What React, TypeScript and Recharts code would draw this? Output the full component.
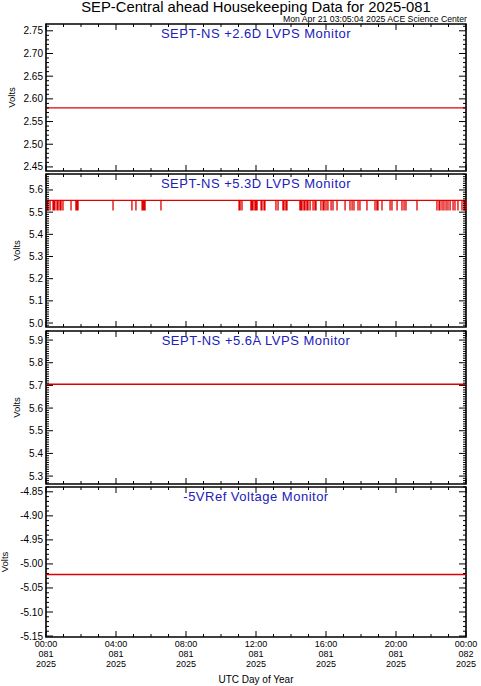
import React from "react";
import { LineChart, Line, XAxis, YAxis, ReferenceArea } from "recharts";

const W = 481;
const H = 686;
const PLOT_L = 46;
const PLOT_R = 466;
const FONT = "'Liberation Sans', Arial, sans-serif";
const RED = "#e00000";
const BLUE = "#2020b8";

// x axis (hours of day 081)
const majorHours = [0, 4, 8, 12, 16, 20, 24];
const hourLabels = ["00:00", "04:00", "08:00", "12:00", "16:00", "20:00", "00:00"];
const dayLabels = ["081", "081", "081", "081", "081", "081", "082"];
const yearLabels = ["2025", "2025", "2025", "2025", "2025", "2025", "2025"];

// panel 1: +2.6D LVPS
const p1Times = [0, 24];
const p1Volts = [2.58, 2.58];
const p1Ticks = [2.45, 2.5, 2.55, 2.6, 2.65, 2.7, 2.75];

// panel 2: +5.3D LVPS (level with single-sample dropouts)
const p2Level = 5.553;
const p2Dropout = 5.507;
const p2DropTimes = [
  0.06, 0.11, 0.23, 0.4, 0.46, 0.51, 0.63, 0.69, 0.8, 0.86, 0.97, 1.43, 1.71, 1.77, 1.83,
  3.83, 4.91, 5.14, 5.49, 5.54, 5.6, 5.66, 6.57,
  11.03, 11.09, 11.2, 11.71, 11.77, 11.83, 11.94, 12.0, 12.06, 12.29, 12.34, 12.46, 12.51,
  13.14, 13.26, 13.54, 13.6, 13.71, 13.77, 14.51, 14.57, 14.63, 14.74, 14.8, 14.91, 14.97,
  15.09, 15.26, 15.37, 15.43, 15.71, 15.83, 15.89, 16.0, 16.11, 16.29, 16.4, 16.63, 17.09,
  17.37, 17.49, 17.6, 17.83, 17.94, 18.34, 18.8, 18.91, 18.97, 19.2, 19.66, 19.77, 20.06,
  20.34, 20.46, 20.57, 21.2, 22.34, 22.46, 22.51, 22.63, 22.74, 22.86, 22.97, 23.09, 23.26,
  23.37, 23.54, 23.77, 23.89, 23.94, 24.0,
];
const p2Ticks = [5.0, 5.1, 5.2, 5.3, 5.4, 5.5, 5.6];

// panel 3: +5.6A LVPS
const p3Times = [0, 24];
const p3Volts = [5.705, 5.705];
const p3Ticks = [5.3, 5.4, 5.5, 5.6, 5.7, 5.8, 5.9];

// panel 4: -5VRef
const p4Times = [0, 24];
const p4Volts = [-5.022, -5.022];
const p4Ticks = [-5.15, -5.1, -5.05, -5.0, -4.95, -4.9, -4.85];

function steps(lo: number, hi: number, step: number) {
  const out: number[] = [];
  const n = Math.floor((hi - lo) / step + 1e-6);
  for (let i = 0; i <= n; i++) out.push(Math.round((lo + i * step) * 1000) / 1000);
  return out;
}

const hourTicks = steps(0, 24, 1);

type Row = { t: number; v: number };

const zip = (ts: number[], vs: number[]): Row[] => ts.map((t, i) => ({ t, v: vs[i] }));

const p2Data: Row[] = [{ t: 0, v: p2Level }];
for (const t of p2DropTimes) {
  p2Data.push({ t, v: p2Level }, { t, v: p2Dropout }, { t, v: p2Level });
}
p2Data.push({ t: 24, v: p2Level });

type PanelProps = {
  top: number;
  plotH: number;
  domain: [number, number];
  majors: number[];
  decimals: number;
  data: Row[];
  last?: boolean;
};

const PAD = 4;

function Panel({ top, plotH, domain, majors, decimals, data, last }: PanelProps) {
  const xAxisH = last ? 40 : 2;
  const bottomPad = last ? 16 : PAD;
  const chartH = PAD + plotH + xAxisH + bottomPad;
  const plotTop = PAD;
  const plotBottom = PAD + plotH;
  const yTicks = steps(Math.ceil(domain[0] * 100 - 1e-6) / 100, domain[1], 0.01);

  const yTick = (props: any) => {
    const { y, payload } = props;
    const v = payload.value;
    const major = majors.some((m) => Math.abs(m - v) < 1e-6);
    const len = major ? 7 : 3;
    return (
      <g>
        <line x1={PLOT_L} x2={PLOT_L + len} y1={y} y2={y} stroke="#000" strokeWidth={1} />
        <line x1={PLOT_R - len} x2={PLOT_R} y1={y} y2={y} stroke="#000" strokeWidth={1} />
        {major && (
          <text x={PLOT_L - 3} y={y} dy="0.35em" textAnchor="end" fontSize={10} fill="#000">
            {v.toFixed(decimals)}
          </text>
        )}
      </g>
    );
  };

  const xTick = (props: any) => {
    const { x, payload } = props;
    const v = payload.value;
    const idx = majorHours.indexOf(v);
    const len = idx >= 0 ? 6 : 3;
    return (
      <g>
        <line x1={x} x2={x} y1={plotBottom} y2={plotBottom - len} stroke="#000" strokeWidth={1} />
        <line x1={x} x2={x} y1={plotTop} y2={plotTop + len} stroke="#000" strokeWidth={1} />
        {last && idx >= 0 && (
          <g>
            <text x={x} y={plotBottom + 10} textAnchor="middle" fontSize={9} fill="#000">
              {hourLabels[idx]}
            </text>
            <text x={x} y={plotBottom + 20.2} textAnchor="middle" fontSize={9} fill="#000">
              {dayLabels[idx]}
            </text>
            <text x={x} y={plotBottom + 30.4} textAnchor="middle" fontSize={9} fill="#000">
              {yearLabels[idx]}
            </text>
          </g>
        )}
      </g>
    );
  };

  return (
    <div style={{ position: "absolute", left: 0, top: top - PAD }}>
      <LineChart
        width={W}
        height={chartH}
        data={data}
        margin={{ top: PAD, right: W - PLOT_R, bottom: bottomPad, left: 0 }}
      >
        <XAxis
          dataKey="t"
          type="number"
          domain={[0, 24]}
          ticks={hourTicks}
          interval={0}
          height={xAxisH}
          axisLine={false}
          tickLine={false}
          tick={xTick}
        />
        <YAxis
          type="number"
          domain={domain}
          allowDataOverflow
          ticks={yTicks}
          interval={0}
          width={PLOT_L}
          axisLine={false}
          tickLine={false}
          tick={yTick}
        />
        <Line
          dataKey="v"
          type="linear"
          stroke={RED}
          strokeWidth={1.3}
          dot={false}
          isAnimationActive={false}
        />
        <ReferenceArea
          x1={0}
          x2={24}
          y1={domain[0]}
          y2={domain[1]}
          stroke="#000"
          strokeWidth={1.6}
          fill="none"
          fillOpacity={0}
        />
      </LineChart>
    </div>
  );
}

const panels = [
  { top: 24, plotH: 147, domain: [2.441, 2.765] as [number, number], majors: p1Ticks, decimals: 2, data: zip(p1Times, p1Volts), title: "SEPT-NS +2.6D LVPS Monitor", vx: 12 },
  { top: 174, plotH: 153, domain: [4.982, 5.672] as [number, number], majors: p2Ticks, decimals: 1, data: p2Data, title: "SEPT-NS +5.3D LVPS Monitor", vx: 17 },
  { top: 331, plotH: 153, domain: [5.265, 5.94] as [number, number], majors: p3Ticks, decimals: 1, data: zip(p3Times, p3Volts), title: "SEPT-NS +5.6A LVPS Monitor", vx: 17 },
  { top: 487, plotH: 150, domain: [-5.152, -4.84] as [number, number], majors: p4Ticks, decimals: 2, data: zip(p4Times, p4Volts), title: "-5VRef Voltage Monitor", vx: 5 },
];

export default function App() {
  const cx = (PLOT_L + PLOT_R) / 2;
  return (
    <div
      style={{
        position: "absolute",
        left: 0,
        top: 0,
        width: W,
        height: H,
        background: "#fff",
        fontFamily: FONT,
      }}
    >
      {panels.map((p, i) => (
        <Panel
          key={i}
          top={p.top}
          plotH={p.plotH}
          domain={p.domain}
          majors={p.majors}
          decimals={p.decimals}
          data={p.data}
          last={i === panels.length - 1}
        />
      ))}
      <svg
        width={W}
        height={H}
        style={{ position: "absolute", left: 0, top: 0, pointerEvents: "none" }}
      >
        <text x={cx} y={12} textAnchor="middle" fontSize={14.8} fill="#000">
          SEP-Central ahead Housekeeping Data for 2025-081
        </text>
        <text x={467} y={21.5} textAnchor="end" fontSize={8.7} fill="#000">
          Mon Apr 21 03:05:04 2025 ACE Science Center
        </text>
        {panels.map((p, i) => (
          <g key={i}>
            <text
              x={cx}
              y={p.top + 14}
              textAnchor="middle"
              fontSize={13}
              letterSpacing={0.5}
              fill={BLUE}
            >
              {p.title}
            </text>
            <text
              transform={`translate(${p.vx},${p.top + p.plotH / 2}) rotate(-90)`}
              textAnchor="middle"
              dy="0.35em"
              fontSize={9.5}
              fill="#000"
            >
              Volts
            </text>
          </g>
        ))}
        <text x={cx} y={683} textAnchor="middle" fontSize={10} fill="#000">
          UTC Day of Year
        </text>
      </svg>
    </div>
  );
}
